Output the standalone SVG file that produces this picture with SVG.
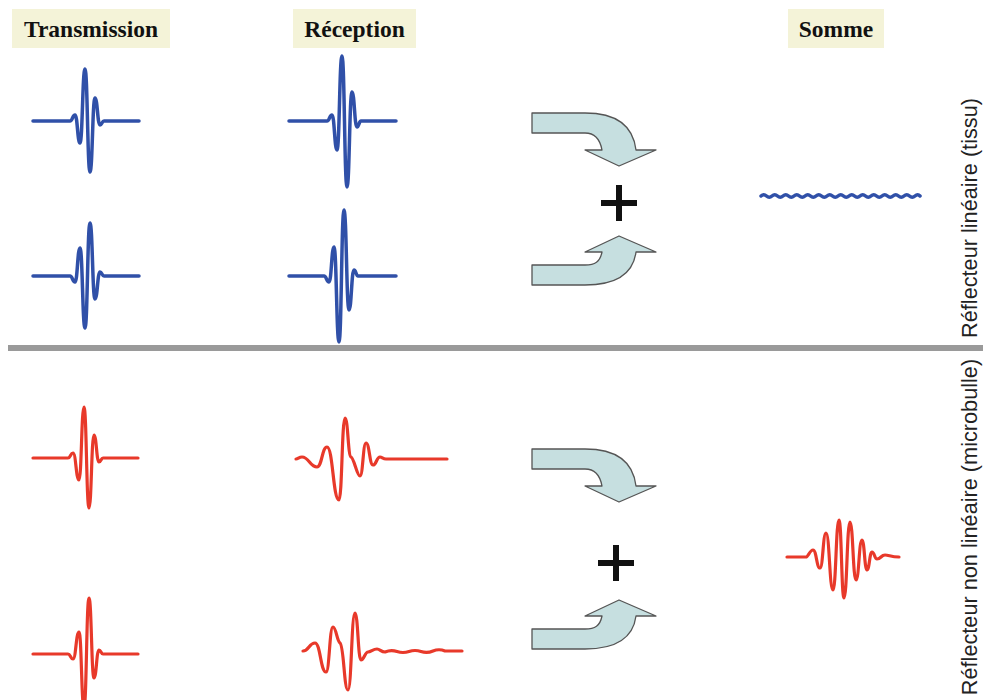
<svg xmlns="http://www.w3.org/2000/svg" width="983" height="700" viewBox="0 0 983 700">
<style>
.hdr{fill:#f4f3d8}
.ht{font-family:"Liberation Serif","Times New Roman",serif;font-weight:bold;font-size:23.5px;fill:#111;text-anchor:middle}
.side{font-family:"Liberation Sans",Arial,sans-serif;font-size:21.7px;fill:#222;text-anchor:middle}
.b{fill:none;stroke:#3050a8;stroke-width:3.5;stroke-linejoin:round;stroke-linecap:round}
.r{fill:none;stroke:#e8392a;stroke-width:3.2;stroke-linejoin:round;stroke-linecap:round}
.arr{fill:#c6dfe0;stroke:#555;stroke-width:1.3;stroke-linejoin:round}
.plus{stroke:#111;stroke-width:6;fill:none}
</style>
<rect width="983" height="700" fill="#fff"/>
<g id="header-transmission"><rect class="hdr" x="12" y="9" width="158" height="39"/><text class="ht" x="91" y="37">Transmission</text></g>
<g id="header-reception"><rect class="hdr" x="293" y="9" width="123" height="39"/><text class="ht" x="354.5" y="37">Réception</text></g>
<g id="header-somme"><rect class="hdr" x="788" y="9" width="96" height="39"/><text class="ht" x="836" y="37">Somme</text></g>

<g id="divider"><line x1="8" y1="348" x2="983" y2="348" stroke="#9a9a9a" stroke-width="6"/></g>

<g id="label-lineaire"><text class="side" transform="translate(977,218) rotate(-90)">Réflecteur linéaire (tissu)</text></g>
<g id="label-nonlineaire"><text class="side" transform="translate(977,527) rotate(-90)">Réflecteur non linéaire (microbulle)</text></g>

<g id="tx-blue-1"><path class="b" d="M33,121 L70,121 C72.5,121 72.5,115 75,115 C77.5,115 77.5,143 80,143 C82.5,143 82.5,69 85,69 C87.5,69 87.5,172 90,172 C92.5,172 92.5,98 95,98 C97.5,98 97.5,125 100,125 C102,125 102,121 104,121 L139,121"/></g>
<g id="tx-blue-2"><path class="b" d="M33,276 L70,276 C72.5,276 72.5,282 75,282 C77.5,282 77.5,248 80,248 C82.5,248 82.5,328 85,328 C87.5,328 87.5,223 90,223 C92.5,223 92.5,299 95,299 C97.5,299 97.5,272 100,272 C102,272 102,276 104,276 L139,276"/></g>
<g id="rx-blue-1"><path class="b" d="M289,121 L327,121 C329.5,121 329.5,115 332,115 C334.5,115 334.5,150 337,150 C339.5,150 339.5,56 342,56 C344.5,56 344.5,187 347,187 C349.5,187 349.5,92 352,92 C354.5,92 354.5,127 357,127 C359,127 359,121 361,121 L396,121"/></g>
<g id="rx-blue-2"><path class="b" d="M289,276 L324,276 C326.5,276 326.5,282 329,282 C331.5,282 331.5,247 334,247 C336.5,247 336.5,342 339,342 C341.5,342 341.5,210 344,210 C346.5,210 346.5,310 349,310 C351.5,310 351.5,270 354,270 C356,270 356,276 358,276 L396,276"/></g>
<g id="sum-blue"><path class="b" stroke-width="3" d="M761,196 Q763.75,193.5 766.5,196 T772,196 T777.5,196 T783,196 T788.5,196 T794,196 T799.5,196 T805,196 T810.5,196 T816,196 T821.5,196 T827,196 T832.5,196 T838,196 T843.5,196 T849,196 T854.5,196 T860,196 T865.5,196 T871,196 T876.5,196 T882,196 T887.5,196 T893,196 T898.5,196 T904,196 T909.5,196 T915,196 T920,196"/></g>

<g id="tx-red-1"><path class="r" d="M33,458 L68,458 C70.5,458 70.5,453 73,453 C76,453 76,480 79,480 C81.5,480 81.5,407 84,407 C86.5,407 86.5,508 89,508 C91.5,508 91.5,435 94,435 C96.5,435 96.5,462 99,462 C101,462 101,458 103,458 L138,458"/></g>
<g id="tx-red-2"><path class="r" d="M33,654 L68,654 C70.5,654 70.5,659 73,659 C76,659 76,632 79,632 C81.5,632 81.5,708 84,708 C86.5,708 86.5,598 89,598 C91.5,598 91.5,678 94,678 C96.5,678 96.5,650 99,650 C101,650 101,654 103,654 L138,654"/></g>
<g id="rx-red-1"><path class="r" d="M296,459 C298,459 299,457 302,457 C309,457 310,467 317,467 C322,467 322,447 327,447 C333,447 333,500 339,500 C342,500 342,418 345,418 C348,418 348,456 351,457 C354,458 357,476 360,476 C363,476 363,443 366,443 C369.5,443 369.5,465 373,465 C376.5,465 376.5,457 380,457 C382,457 383,459 386,459 L447,459"/></g>
<g id="rx-red-2"><path class="r" d="M303,651 C309,651 309,643 315,643 C320.5,643 320.5,672 326,672 C329.5,672 329.5,627 333,627 C336,627 337,641 340,643 C344,646 344,690 348,690 C351.5,690 351.5,613 355,613 C358,613 358,660 361,660 C364,660 365,652 368,652 C371,652 373,649 377,649 C380,649 381,652 385,652 Q391,649.5 397,651.5 T409,651.5 T421,651.5 T433,651 T445,651 L462,651"/></g>
<g id="sum-red"><path class="r" stroke-width="3.6" d="M787,557 L806,557 C808,557 810,550 813,550 C816.5,550 816.5,568 820,568 C823,568 823,533 826,533 C829.5,533 829.5,590 833,590 C836,590 836,520 839,520 C841.5,520 841.5,598 844,598 C847,598 847,522 850,522 C853,522 853,580 856,580 C859,580 859,540 862,540 C864.5,540 864.5,570 867,570 C869.5,570 869.5,552 872,552 C874.5,552 874.5,559 877,559 C881,559 881,555 885,555 C889,555 891,557 899,557"/></g>

<g id="plus-1"><path class="plus" d="M601,203 H637 M619,185 V221"/></g>
<g id="plus-2"><path class="plus" d="M598,563 H634 M616,545 V581"/></g>

<g id="connectors">
<path class="arr" d="M532,113 L585,113 C615,113 633,125 636,150 L656,150 L619,166 L585,150 L602,150 C600,139 595,133 585,133 L532,133 Z"/>
<path class="arr" d="M532,285 L585,285 C615,285 633,275 636,252 L656,252 L619,236 L585,252 L602,252 C600,262 595,265 585,265 L532,265 Z"/>
<path class="arr" d="M532,449 L585,449 C615,449 633,461 636,486 L656,486 L619,502 L585,486 L602,486 C600,475 595,469 585,469 L532,469 Z"/>
<path class="arr" d="M532,649 L585,649 C615,649 633,639 636,616 L656,616 L619,600 L585,616 L602,616 C600,626 595,629 585,629 L532,629 Z"/>
</g>
</svg>
